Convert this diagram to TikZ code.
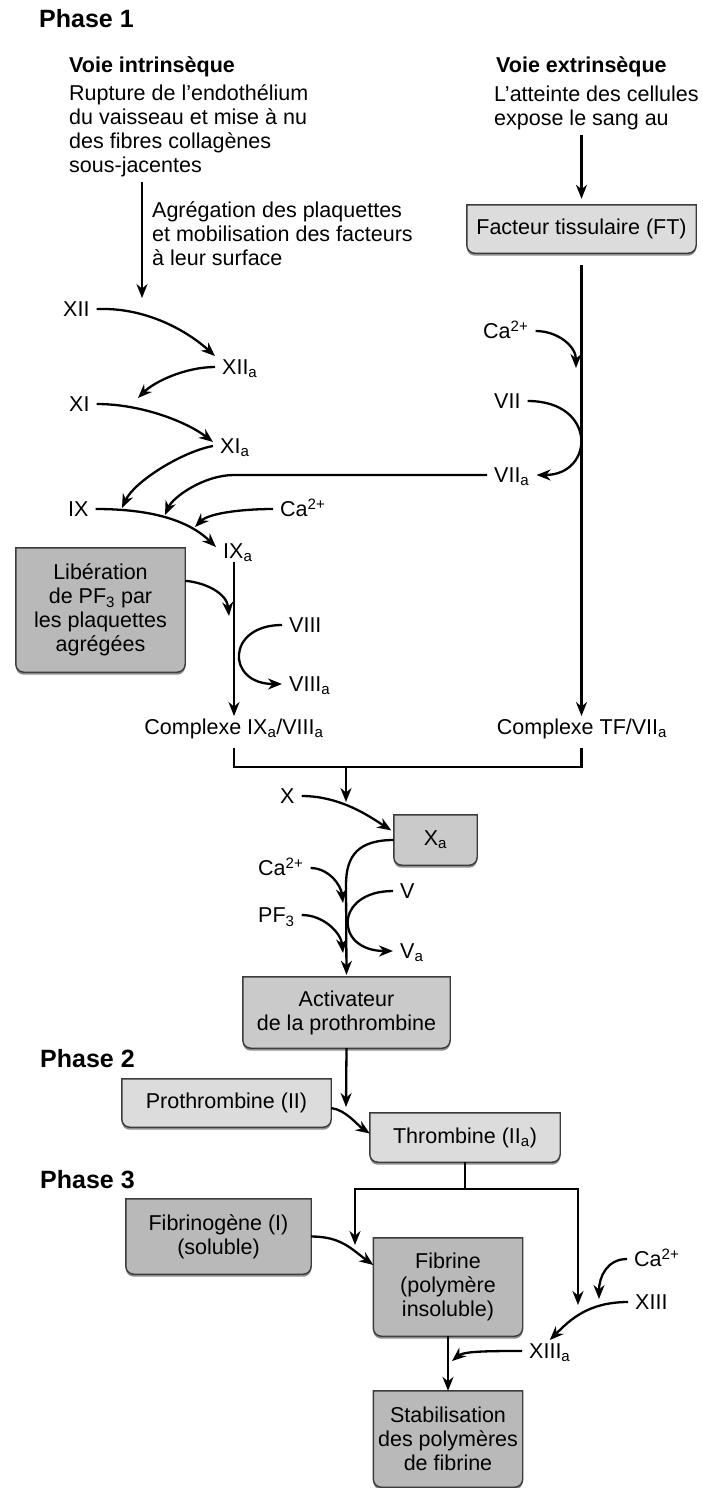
\documentclass[tikz,border=0pt]{standalone}
\usepackage{fontspec}
\setmainfont{Liberation Sans}
\usetikzlibrary{arrows.meta,backgrounds}

\definecolor{lightfill}{HTML}{DCDCDC}
\definecolor{midfill}{HTML}{CACACA}
\definecolor{darkfill}{HTML}{B9B9B9}
\definecolor{edgegray}{HTML}{3C3C3C}

\newcommand{\labfont}{\fontsize{21.5}{24}\selectfont}
\newcommand{\headfont}{\fontsize{21.5}{24}\selectfont\bfseries}
\newcommand{\phasefont}{\fontsize{25}{28}\selectfont\bfseries}

% box with a square top and rounded bottom corners, plus its shadow
\newcommand{\tabbox}[2]{%
  \fill[black!45] ([yshift=-2.5pt]#1.north west) -- ([yshift=5.5pt]#1.south west)
    arc[start angle=180,end angle=270,radius=8pt] -- ([xshift=-8pt,yshift=-2.5pt]#1.south east)
    arc[start angle=270,end angle=360,radius=8pt] -- ([yshift=-2.5pt]#1.north east) -- cycle;
  \filldraw[fill=#2,draw=edgegray,line width=1.4pt] (#1.north west) -- ([yshift=8pt]#1.south west)
    arc[start angle=180,end angle=270,radius=8pt] -- ([xshift=-8pt]#1.south east)
    arc[start angle=270,end angle=360,radius=8pt] -- (#1.north east) -- cycle;}

\begin{document}
\begin{tikzpicture}[x=1pt,y=-1pt,
  lab/.style={font=\labfont,inner xsep=7pt,inner ysep=3pt,text height=15.5pt,text depth=0pt,anchor=west},
  boxtxt/.style={font=\labfont,inner sep=0pt,align=center},
  line/.style={line width=2.3pt,draw=black},
  arr/.style={line,-{Stealth[length=14pt,width=11pt]}}]
\useasboundingbox (0,0) rectangle (702,1488);

% headings (multi-line texts sit on their last baseline)
\node[font=\phasefont,anchor=base west,inner sep=0] (ph1) at (39,28) {Phase 1};
\node[font=\phasefont,anchor=base west,inner sep=0] (ph2) at (40,1067) {Phase 2};
\node[font=\phasefont,anchor=base west,inner sep=0] (ph3) at (40,1188) {Phase 3};
\node[font=\headfont,anchor=base west,inner sep=0] (intrhead) at (69,72) {Voie intrinsèque};
\node[font=\headfont,anchor=base west,inner sep=0] (extrhead) at (496,72) {Voie extrinsèque};
\node[font=\labfont,anchor=base west,inner sep=0,align=left] (rupture) at (69,172)
  {Rupture de l'endothélium\\du vaisseau et mise à nu\\des fibres collagènes\\sous-jacentes};
\node[font=\labfont,anchor=base west,inner sep=0,align=left] (agg) at (152,265)
  {Agrégation des plaquettes\\et mobilisation des facteurs\\à leur surface};
\node[font=\labfont,anchor=base west,inner sep=0,align=left] (extr) at (494,125)
  {L'atteinte des cellules\\expose le sang au};

% boxes
\node[boxtxt,minimum width=229pt,minimum height=48pt] (ft) at (581.5,229) {Facteur tissulaire (FT)};
\node[boxtxt,minimum width=169pt,minimum height=124pt] (lib) at (100.5,610)
  {Libération\\de PF\textsubscript{3} par\\les plaquettes\\agrégées};
\node[boxtxt,minimum width=83pt,minimum height=50pt] (xa) at (435.5,840) {X\textsubscript{a}};
\node[boxtxt,minimum width=207pt,minimum height=71pt] (act) at (346.5,1012.5) {Activateur\\de la prothrombine};
\node[boxtxt,minimum width=209pt,minimum height=48pt] (pro) at (226.5,1103) {Prothrombine (II)};
\node[boxtxt,minimum width=190pt,minimum height=49pt] (thr) at (465,1137.5) {Thrombine (II\textsubscript{a})};
\node[boxtxt,minimum width=185pt,minimum height=75pt] (fgn) at (218.5,1236.5) {Fibrinogène (I)\\(soluble)};
\node[boxtxt,minimum width=149pt,minimum height=98pt] (fib) at (448,1287) {Fibrine\\(polymère\\insoluble)};
\node[boxtxt,minimum width=149pt,minimum height=96pt] (stab) at (448,1439) {Stabilisation\\des polymères\\de fibrine};

% factors
\node[lab] (xii) at (56,309) {XII};
\node[lab] (xiia) at (215,367) {XII\textsubscript{a}};
\node[lab] (xi) at (62,404) {XI};
\node[lab] (xia) at (213,446) {XI\textsubscript{a}};
\node[lab] (ix) at (61,509) {IX};
\node[lab] (ixa) at (216,551) {IX\textsubscript{a}};
\node[lab] (ca2) at (273,509) {Ca\textsuperscript{2+}};
\node[lab] (viii) at (282,625) {VIII};
\node[lab] (viiia) at (282,684) {VIII\textsubscript{a}};
\node[lab,anchor=center] (cix) at (234,727) {Complexe IX\textsubscript{a}/VIII\textsubscript{a}};
\node[lab,anchor=center] (tfc) at (582,727) {Complexe TF/VII\textsubscript{a}};
\node[lab] (ca1) at (476,331) {Ca\textsuperscript{2+}};
\node[lab] (vii) at (487,401) {VII};
\node[lab] (viia) at (487,475) {VII\textsubscript{a}};
\node[lab] (x) at (273,796) {X};
\node[lab] (ca3) at (251,868) {Ca\textsuperscript{2+}};
\node[lab] (pf3) at (251,915) {PF\textsubscript{3}};
\node[lab] (v) at (393,891) {V};
\node[lab] (va) at (393,951) {V\textsubscript{a}};
\node[lab] (ca4) at (627,1259) {Ca\textsuperscript{2+}};
\node[lab] (xiii) at (628,1302) {XIII};
\node[lab] (xiiia) at (522,1351) {XIII\textsubscript{a}};

% free ends
\coordinate (t11) at (138,398);
\coordinate (t9) at (122,508);
\coordinate (t7) at (165,515);
\coordinate (tca2) at (195,527);
\coordinate (tca1) at (576,368);
\coordinate (tlib) at (229,616);
\coordinate (jn) at (346,767);
\coordinate (xin) at (346,802);
\coordinate (xbend) at (346,885);
\coordinate (tca3) at (343,903);
\coordinate (tpf3) at (343,953);
\coordinate (tact) at (346,1107);
\coordinate (jt) at (465,1189);
\coordinate (tfl) at (355,1245);
\coordinate (tfr) at (578,1305);
\coordinate (t13) at (452,1361);
\coordinate (tca4) at (599,1299);

% intrinsic pathway
\draw[arr,shorten <=5pt] ([xshift=-10pt]agg.west |- rupture.south) -- ([xshift=-10pt]agg.west |- xii.north);
\draw[arr] (xii.east) .. controls +(55,-2) and +(-22,-20) .. (xiia.north west);
\draw[arr] (xiia.west) .. controls +(-30,0) and +(16,-16) .. (t11);
\draw[arr] (xi.east) .. controls +(45,0) and +(-26,-20) .. ([yshift=4pt]xia.west);
\draw[arr] (xia.west) .. controls +(-32,6) and +(12,-26) .. (t9);
\draw[arr] (ix.east) .. controls +(55,0) and +(-28,-27) .. ([yshift=4pt]ixa.west);
\draw[arr] (ca2.west) .. controls +(-30,0) and +(14,-14) .. (tca2);
\draw[arr] (ixa.south -| cix.north) -- (cix.north);
\draw[arr] ([yshift=-33pt]lib.north east) .. controls +(22,2) and +(-2,-22) .. (tlib);
\draw[arr] (viii.west) .. controls +(-56,0) and +(-56,0) .. (viiia.west);

% extrinsic pathway
\draw[arr,shorten <=5pt,shorten >=6pt] (ft.north |- extr.south) -- (ft.north);
\draw[arr] ([yshift=-12pt]ft.south) -- (ft.south |- tfc.north);
\draw[arr] (ca1.east) .. controls +(22,0) and +(0,-22) .. (tca1);
\draw[arr] (vii.east) .. controls +(70,0) and +(58,0) .. (viia.east);
\draw[arr] (viia.west) -- ++(-253,0) .. controls +(-30,0) and +(8,-18) .. (t7);

% common pathway
\draw[line] ([yshift=-10pt]cix.south) |- (jn) -| ([yshift=-10pt]ft.south |- tfc.south);
\draw[arr] (jn) -- (xin);
\draw[arr,shorten >=3pt] (x.east) .. controls +(40,0) and +(-22,-14) .. ([yshift=8pt]xa.west);
\draw[arr,shorten >=2pt] (xa.west) .. controls +(-35,0) and +(0,-30) .. (xbend) -- (act.north);
\draw[arr] (ca3.east) .. controls +(18,0) and +(-2,-18) .. (tca3);
\draw[arr] (pf3.east) .. controls +(22,0) and +(-2,-20) .. (tpf3);
\draw[arr] (v.west) .. controls +(-59,0) and +(-59,0) .. (va.west);
\draw[arr] (act.south) -- (tact);
\draw[arr] ([yshift=-5pt]pro.east) .. controls +(15,2) and +(-12,-8) .. ([yshift=4pt]thr.west);
\draw[line] (thr.south) -- (jt);
\draw[arr] (jt) -| (tfl);
\draw[arr] (jt) -| (tfr);
\draw[arr] (fgn.east) .. controls +(30,0) and +(-22,-16) .. ([yshift=22pt]fib.west);
\draw[arr] (fib.south) -- (stab.north);
\draw[arr] (ca4.west) .. controls +(-20,0) and +(0,-22) .. (tca4);
\draw[arr] (xiii.west) .. controls +(-40,0) and +(20,-20) .. (xiiia.north);
\draw[arr] (xiiia.west) .. controls +(-30,0) and +(12,-10) .. (t13);

\begin{scope}[on background layer]
  \tabbox{ft}{lightfill}
  \tabbox{lib}{darkfill}
  \tabbox{xa}{midfill}
  \tabbox{act}{midfill}
  \tabbox{pro}{lightfill}
  \tabbox{thr}{lightfill}
  \tabbox{fgn}{darkfill}
  \tabbox{fib}{darkfill}
  \tabbox{stab}{darkfill}
\end{scope}
\end{tikzpicture}
\end{document}
